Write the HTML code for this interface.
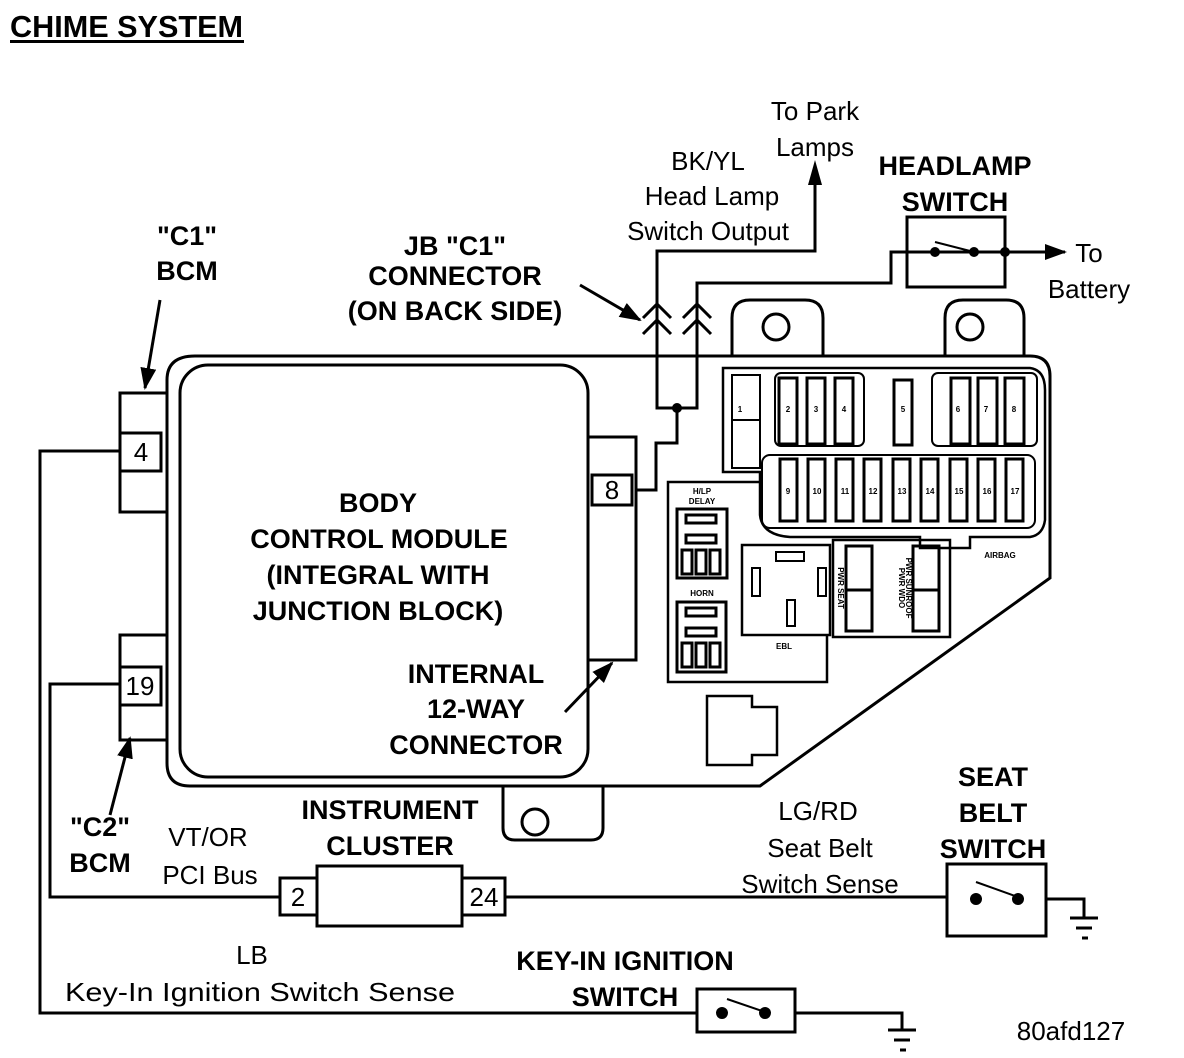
<!DOCTYPE html>
<html><head><meta charset="utf-8"><style>
html,body{margin:0;padding:0;background:#fff;}
svg{display:block;}
text{font-family:"Liberation Sans",Arial,sans-serif;fill:#000;}
.b{font-weight:bold;font-size:27px;}
.n{font-size:26px;}
.s{font-size:8px;font-weight:bold;}
</style></head><body>
<svg width="1184" height="1058" viewBox="0 0 1184 1058" xmlns="http://www.w3.org/2000/svg">
<defs>
<marker id="ah2" markerWidth="22" markerHeight="16" refX="20" refY="8" orient="auto" markerUnits="userSpaceOnUse"><path d="M0,0 L22,8 L0,16 Z" fill="#000"/></marker></defs>

<text x="10" y="37" font-size="31" font-weight="bold" textLength="233" lengthAdjust="spacingAndGlyphs">CHIME SYSTEM</text>
<rect x="10" y="40" width="234" height="3"/>

<g fill="none" stroke="#000" stroke-width="3">
<path d="M195,356 L1030,356 Q1050,356 1050,376 L1050,578 L760,786 L190,786 Q167,786 167,763 L167,380 Q167,356 195,356 Z"/>
<path d="M732,356 L732,318 Q732,300 750,300 L805,300 Q823,300 823,318 L823,356"/>
<path d="M945,356 L945,318 Q945,300 963,300 L1006,300 Q1024,300 1024,318 L1024,356"/>
<circle cx="776" cy="327" r="13"/><circle cx="970" cy="327" r="13"/>
<path d="M503,786 L503,828 Q503,840 515,840 L591,840 Q603,840 603,828 L603,786"/>
<circle cx="535" cy="822" r="13"/>
<rect x="180" y="365" width="408" height="412" rx="28"/>
<rect x="120" y="393" width="47" height="119"/>
<rect x="120" y="433" width="41" height="38"/>
<rect x="120" y="635" width="47" height="105"/>
<rect x="120" y="667" width="41" height="38"/>
<rect x="588" y="437" width="48" height="223"/>
<rect x="592" y="475" width="40" height="30"/>
<polyline points="120,451 40,451 40,1013 697,1013"/>
<polyline points="120,684 50,684 50,897 280,897"/>
<polyline points="505,897 947,897"/>
<polyline points="1045,899 1084,899 1084,918"/>
<polyline points="795,1013 902,1013 902,1030"/>
<polyline points="636,490 656,490 656,443 677,443 677,408"/>
<polyline points="657,300 657,408 697,408 697,300"/>
<polyline points="657,300 657,251 815,251 815,172"/>
<polyline points="697,300 697,283 891,283 891,252 1045,252"/>
<polyline points="643,318 657,304 671,318"/><polyline points="643,334 657,320 671,334"/>
<polyline points="683,318 697,304 711,318"/><polyline points="683,334 697,320 711,334"/>
<rect x="280" y="878" width="37" height="37"/>
<rect x="317" y="866" width="145" height="60"/>
<rect x="462" y="878" width="43" height="37"/>
<rect x="907" y="217" width="98" height="70"/>
<line x1="935" y1="242" x2="974" y2="252" stroke-width="2"/>
<rect x="947" y="864" width="99" height="72"/>
<line x1="976" y1="882" x2="1018" y2="897" stroke-width="2"/>
<rect x="697" y="989" width="98" height="43"/>
<line x1="727" y1="999" x2="765" y2="1012" stroke-width="2"/>
<!-- fuse block -->
<path d="M723,368 L1030,368 Q1045,370 1045,390 L1045,520 Q1043,535 1030,537 L970,537 L970,548 L920,548 L920,537 L790,537 Q762,535 760,515 L760,472 L723,472 Z" stroke-width="2.5"/>
<rect x="775" y="373" width="89" height="73" rx="6" stroke-width="2"/>
<rect x="932" y="373" width="105" height="73" rx="6" stroke-width="2"/>
<rect x="762" y="455" width="273" height="73" rx="8" stroke-width="2"/>
<rect x="732" y="375" width="28" height="93" stroke-width="2"/>
<line x1="732" y1="420" x2="760" y2="420" stroke-width="2"/>
<rect x="894" y="380" width="18" height="65" stroke-width="3"/>
<!-- relay panel -->
<path d="M760,482 L668,482 L668,682 L827,682 L827,635" stroke-width="2.5"/>
<rect x="677" y="509" width="50" height="69" stroke-width="3"/>
<rect x="677" y="602" width="49" height="70" stroke-width="3"/>
<rect x="742" y="545" width="88" height="90" stroke-width="2.5"/>
<rect x="833" y="540" width="117" height="97" stroke-width="2.5"/>
<rect x="846" y="546" width="26" height="85" stroke-width="3"/>
<rect x="913" y="546" width="26" height="85" stroke-width="3"/>
<line x1="846" y1="590" x2="872" y2="590"/><line x1="913" y1="590" x2="939" y2="590"/>
<rect x="752" y="568" width="8" height="28" stroke-width="2"/>
<rect x="787" y="600" width="8" height="26" stroke-width="2"/>
<rect x="818" y="568" width="8" height="28" stroke-width="2"/>
<rect x="776" y="552" width="28" height="9" stroke-width="2"/>
<path d="M707,696 L752,696 L752,707 L777,707 L777,755 L752,755 L752,765 L707,765 Z" stroke-width="2.5"/>
<line x1="160" y1="300" x2="145" y2="388" marker-end="url(#ah2)"/>
<line x1="580" y1="285" x2="640" y2="320" marker-end="url(#ah2)"/>
<line x1="565" y1="712" x2="612" y2="663" marker-end="url(#ah2)"/>
<line x1="110" y1="815" x2="130" y2="738" marker-end="url(#ah2)"/>
<line x1="1005" y1="252" x2="1065" y2="252" marker-end="url(#ah2)"/>
<line x1="1070" y1="918" x2="1098" y2="918"/><line x1="1076" y1="928" x2="1092" y2="928"/><line x1="1082" y1="938" x2="1088" y2="938"/>
<line x1="888" y1="1030" x2="916" y2="1030"/><line x1="894" y1="1040" x2="910" y2="1040"/><line x1="900" y1="1050" x2="906" y2="1050"/>
</g>
<g fill="none" stroke="#000" stroke-width="3">
<rect x="779" y="378" width="18" height="66"/><rect x="807" y="378" width="18" height="66"/><rect x="835" y="378" width="18" height="66"/>
<rect x="951" y="378" width="19" height="66"/><rect x="978" y="378" width="19" height="66"/><rect x="1005" y="378" width="19" height="66"/>
<rect x="780" y="459" width="17" height="62"/><rect x="808" y="459" width="17" height="62"/><rect x="836" y="459" width="17" height="62"/><rect x="864" y="459" width="17" height="62"/><rect x="893" y="459" width="17" height="62"/><rect x="921" y="459" width="17" height="62"/><rect x="950" y="459" width="17" height="62"/><rect x="978" y="459" width="17" height="62"/><rect x="1006" y="459" width="17" height="62"/>
<rect x="686" y="515" width="30" height="8"/><rect x="686" y="535" width="30" height="8"/><rect x="682" y="550" width="10" height="24"/><rect x="696" y="550" width="10" height="24"/><rect x="710" y="550" width="10" height="24"/>
<rect x="686" y="608" width="30" height="8"/><rect x="686" y="628" width="30" height="8"/><rect x="682" y="643" width="10" height="24"/><rect x="696" y="643" width="10" height="24"/><rect x="710" y="643" width="10" height="24"/>
</g>
<g text-anchor="middle">
<text x="740" y="412" class="s">1</text><text x="788" y="412" class="s">2</text><text x="816" y="412" class="s">3</text><text x="844" y="412" class="s">4</text><text x="903" y="412" class="s">5</text><text x="958" y="412" class="s">6</text><text x="986" y="412" class="s">7</text><text x="1014" y="412" class="s">8</text>
<text x="788" y="494" class="s">9</text><text x="817" y="494" class="s">10</text><text x="845" y="494" class="s">11</text><text x="873" y="494" class="s">12</text><text x="902" y="494" class="s">13</text><text x="930" y="494" class="s">14</text><text x="959" y="494" class="s">15</text><text x="987" y="494" class="s">16</text><text x="1015" y="494" class="s">17</text>
<text x="702" y="494" class="s" font-size="7">H/LP</text><text x="702" y="504" class="s" font-size="7">DELAY</text>
<text x="702" y="596" class="s" font-size="7">HORN</text><text x="784" y="649" class="s" font-size="7">EBL</text><text x="1000" y="558" class="s" font-size="7">AIRBAG</text>
<text class="s" font-size="7" transform="translate(838,588) rotate(90)">PWR SEAT</text>
<text class="s" font-size="7" transform="translate(899,588) rotate(90)">PWR WDO</text>
<text class="s" font-size="7" transform="translate(906,588) rotate(90)">PWR SUNROOF</text>
</g>
<g fill="#000">
<circle cx="677" cy="408" r="5"/>
<circle cx="935" cy="252" r="5"/><circle cx="974" cy="252" r="5"/><circle cx="1005" cy="252" r="5"/>
<circle cx="976" cy="899" r="6"/><circle cx="1018" cy="899" r="6"/>
<circle cx="722" cy="1013" r="6"/><circle cx="765" cy="1013" r="6"/>
<path d="M815,160 L808,185 L822,185 Z"/>
</g>
<g class="n" text-anchor="middle">
<text x="141" y="461">4</text><text x="140" y="695">19</text><text x="612" y="499">8</text>
<text x="298" y="906">2</text><text x="484" y="906">24</text>
<text x="815" y="120">To Park</text><text x="815" y="156">Lamps</text>
<text x="708" y="170">BK/YL</text><text x="712" y="205">Head Lamp</text><text x="708" y="240">Switch Output</text>
<text x="1089" y="262">To</text><text x="1089" y="298">Battery</text>
<text x="208" y="846">VT/OR</text><text x="210" y="884">PCI Bus</text>
<text x="818" y="820">LG/RD</text><text x="820" y="857">Seat Belt</text><text x="820" y="893">Switch Sense</text>
<text x="252" y="964">LB</text><text x="260" y="1001" textLength="390" lengthAdjust="spacingAndGlyphs">Key-In Ignition Switch Sense</text>
<text x="1071" y="1040">80afd127</text>
</g>
<g class="b" text-anchor="middle">
<text x="187" y="245">"C1"</text><text x="187" y="280">BCM</text>
<text x="455" y="255">JB "C1"</text><text x="455" y="285">CONNECTOR</text><text x="455" y="320">(ON BACK SIDE)</text>
<text x="955" y="175">HEADLAMP</text><text x="955" y="211">SWITCH</text>
<text x="378" y="512">BODY</text><text x="379" y="548">CONTROL MODULE</text><text x="378" y="584">(INTEGRAL WITH</text><text x="378" y="620">JUNCTION BLOCK)</text>
<text x="476" y="683">INTERNAL</text><text x="476" y="718">12-WAY</text><text x="476" y="754">CONNECTOR</text>
<text x="100" y="836">"C2"</text><text x="100" y="872">BCM</text>
<text x="390" y="819">INSTRUMENT</text><text x="390" y="855">CLUSTER</text>
<text x="993" y="786">SEAT</text><text x="993" y="822">BELT</text><text x="993" y="858">SWITCH</text>
<text x="625" y="970">KEY-IN IGNITION</text><text x="625" y="1006">SWITCH</text>
</g>
</svg>
</body></html>
